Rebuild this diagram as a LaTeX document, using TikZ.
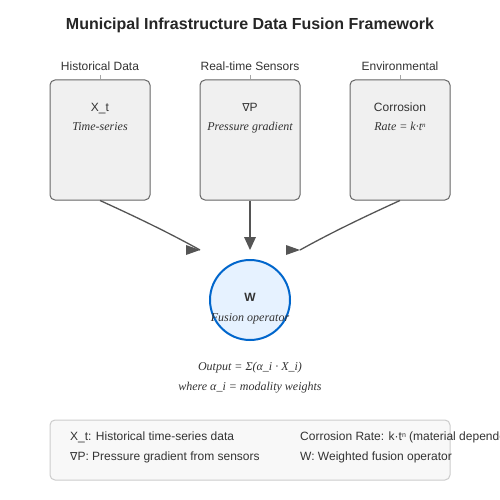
\documentclass[tikz,border=0pt]{standalone}
\usepackage{fontspec}
\setmainfont{Liberation Sans}
\newfontfamily\serifit{Liberation Serif}[ItalicFont={Liberation Serif Italic}]
\newfontfamily\symfont{DejaVu Sans}
\definecolor{boxfill}{HTML}{F0F0F0}
\definecolor{boxline}{HTML}{666666}
\definecolor{txt}{HTML}{333333}
\definecolor{arrowc}{HTML}{555555}
\definecolor{circfill}{HTML}{E6F2FF}
\definecolor{circline}{HTML}{0066CC}
\definecolor{legfill}{HTML}{F8F8F8}
\definecolor{legline}{HTML}{CCCCCC}
\newcommand{\supn}{\raisebox{3pt}{\fontsize{7}{8}\selectfont n}}
\begin{document}
\begin{tikzpicture}[x=1pt,y=-1pt,
  inbox/.style={draw=boxline,fill=boxfill,rounded corners=5pt,line width=1pt,minimum width=100pt,minimum height=120pt,inner sep=0pt},
  lab/.style={font=\fontsize{12}{14}\selectfont,text=txt,anchor=base,inner sep=0pt},
  sub/.style={font=\fontsize{12}{14}\selectfont\serifit\itshape,text=txt,anchor=base,inner sep=0pt},
  conn/.style={draw=arrowc,line width=1.3pt},
  tip/.style={fill=arrowc,draw=none},
  tick/.style={draw=black!35,line width=1pt},
  leg/.style={font=\fontsize{12}{14}\selectfont,text=txt,anchor=base west,inner sep=0pt}]
\useasboundingbox (0,0) rectangle (500,500);
\fill[white] (0,0) rectangle (500,500);
\node[font=\fontsize{16}{19}\selectfont\bfseries,text=black!85,anchor=base,inner sep=0pt] (title) at (250,30) {Municipal Infrastructure Data Fusion Framework};
% input boxes
\node[inbox] (b1) at (100,140) {};
\node[inbox] (b2) at (250,140) {};
\node[inbox] (b3) at (400,140) {};
\node[lab] (h1) at (100,71) {Historical Data};
\node[lab] (h2) at (250,71) {Real-time Sensors};
\node[lab] (h3) at (400,71) {Environmental};
\draw[tick] (100,75) -- (b1.north);
\draw[tick] (250,75) -- (b2.north);
\draw[tick] (400,75) -- (b3.north);
\node[lab] (t1) at (100,111) {X\_t};
\node[sub] (s1) at (100,131) {Time-series};
\node[lab] (t2) at (250,111) {{\symfont\fontsize{11}{14}\selectfont ∇}P};
\node[sub] (s2) at (250,131) {Pressure gradient};
\node[lab] (t3) at (400,111) {Corrosion};
\node[sub] (s3) at (400,131) {Rate = k·t\supn};
% fusion circle
\node[circle,draw=circline,fill=circfill,line width=2pt,minimum size=80pt,inner sep=0pt] (W) at (250,300) {};
\node[font=\fontsize{12}{14}\selectfont\bfseries,text=txt,anchor=base,inner sep=0pt] (wl) at (250,301) {W};
\node[sub] (wf) at (250,321) {Fusion operator};
% connectors
\coordinate (e1) at (200,250);
\coordinate (e2) at (250,250);
\coordinate (e3) at (300,250);
\draw[conn] (b1.south) .. controls +(36.7,16.7) and +(-30,-16.7) .. (e1);
\draw[conn] (b2.south) -- (250,240);
\draw[conn] (b3.south) .. controls +(-36.7,16.7) and +(30,-16.7) .. (e3);
\fill[tip] (186,245) -- (e1) -- (186,255) -- cycle;
\fill[tip] (244,237) -- (e2) -- (256,237) -- cycle;
\fill[tip] (286,245) -- (e3) -- (286,255) -- cycle;
% formula
\node[sub] (f1) at (250,370) {Output = Σ(α\_i · X\_i)};
\node[sub] (f2) at (250,390) {where α\_i = modality weights};
% legend
\draw[draw=legline,fill=legfill,rounded corners=5pt,line width=1pt] (50,420) rectangle (450,480);
\node[leg] (l1) at (70,440) {X\_t: Historical time-series data};
\node[leg] (l2) at (70,460) {{\symfont\fontsize{11}{14}\selectfont ∇}P: Pressure gradient from sensors};
\node[leg] (l3) at (300,440) {Corrosion Rate: k·t\supn{} (material dependent)};
\node[leg] (l4) at (300,460) {W: Weighted fusion operator};
\end{tikzpicture}
\end{document}
